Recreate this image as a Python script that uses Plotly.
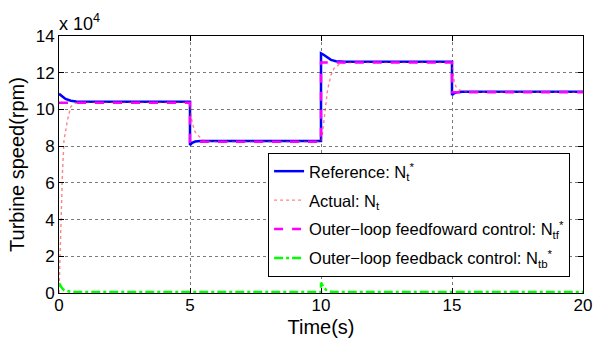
import plotly.graph_objects as go

# Reference turbine speed N_t* (rpm)
t_ref = [0, 0.1, 0.25, 0.45, 0.65, 1.0, 5.0, 5.0, 5.08, 5.2, 5.4,
         10.0, 10.0, 10.1, 10.2, 10.38, 10.57, 10.9,
         15.0, 15.0, 15.08, 15.2, 15.4, 20.0]
n_ref = [108500, 107200, 105700, 104700, 104300, 104200, 104200, 80600, 81800, 82500, 82800,
         82800, 130600, 129800, 128700, 127000, 126300, 126000,
         126000, 107800, 108800, 109400, 109600, 109600]

# Actual turbine speed N_t (rpm)
t_act = [0, 0.03, 0.06, 0.1, 0.13, 0.19, 0.25, 0.32, 0.45, 0.6, 0.8,
         5.0, 5.04, 5.1, 5.16, 5.23, 5.36, 5.48, 5.7, 6.0,
         10.0, 10.05, 10.13, 10.2, 10.25, 10.38, 10.5, 10.7, 10.9, 11.2,
         15.0, 15.04, 15.09, 15.15, 15.28, 15.45, 15.7, 20.0]
n_act = [0, 18000, 34000, 52000, 65000, 83000, 89500, 94000, 101500, 103300, 103700,
         103700, 96000, 91500, 88800, 87000, 84800, 83300, 82600, 82400,
         82400, 86000, 96000, 103300, 110600, 118700, 122400, 124700, 125400, 125500,
         125500, 120000, 115000, 112400, 110600, 109700, 109400, 109300]

# Outer-loop feedforward control N_tf* (rpm)
t_ff = [0, 5, 5, 10, 10, 15, 15, 20]
n_ff = [103700, 103700, 82400, 82400, 125500, 125500, 109300, 109300]

# Outer-loop feedback control N_tb* (rpm)
t_fb = [0, 0.1, 0.2, 0.35, 0.5, 10.0, 10.0, 10.1, 10.2, 10.35, 10.5, 20.0]
n_fb = [5300, 3000, 1500, 800, 500, 500, 5600, 3200, 1600, 800, 500, 500]

x_ticks = [0, 5, 10, 15, 20]
y_ticks = [0, 20000, 40000, 60000, 80000, 100000, 120000, 140000]
y_tick_text = ["0", "2", "4", "6", "8", "10", "12", "14"]

FONT = "Liberation Sans, Arial, Helvetica, sans-serif"

fig = go.Figure()
fig.add_trace(go.Scatter(x=t_ref, y=n_ref, mode="lines", legendgroup="ref",
                         line=dict(color="#0000ff", width=2.5),
                         name="Reference: N<sub>t</sub><sup>*</sup>"))
fig.add_trace(go.Scatter(x=t_act, y=n_act, mode="lines", legendgroup="act",
                         line=dict(color="rgba(255,50,50,0.6)", width=1.4, dash="dot"),
                         name="Actual: N<sub>t</sub>"))
fig.add_trace(go.Scatter(x=t_ff, y=n_ff, mode="lines", legendgroup="ff",
                         line=dict(color="#ff00ff", width=2.5, dash="dash"),
                         name="Outer−loop feedfoward control: N<sub>tf</sub><sup>*</sup>"))
fig.add_trace(go.Scatter(x=t_fb, y=n_fb, mode="lines", legendgroup="fb",
                         line=dict(color="#00ff00", width=2.5, dash="dashdot"),
                         name="Outer−loop feedback control: N<sub>tb</sub><sup>*</sup>"))

axis_common = dict(
    showline=True, linecolor="black", linewidth=1, mirror="allticks",
    ticks="inside", ticklen=5, tickcolor="black",
    showgrid=True, gridcolor="#7a7a7a", gridwidth=1, griddash="dot",
    zeroline=False, automargin=False,
    tickfont=dict(family=FONT, size=17, color="black"),
)

fig.update_xaxes(range=[0, 20], tickvals=x_ticks, ticklabelstandoff=-3,
                 title=dict(text="Time(s)", font=dict(family=FONT, size=20, color="black"), standoff=5),
                 **axis_common)
fig.update_yaxes(range=[0, 140000], tickvals=y_ticks, ticktext=y_tick_text,
                 title=dict(text="Turbine speed(rpm)", font=dict(family=FONT, size=20, color="black"), standoff=5),
                 **axis_common)

fig.add_annotation(text="x 10<sup>4</sup>", xref="paper", yref="paper", x=0, y=1,
                   xanchor="left", yanchor="bottom", showarrow=False, xshift=-2, yshift=0,
                   font=dict(family=FONT, size=18, color="black"))

fig.update_layout(
    width=605, height=338,
    margin=dict(l=59, r=22, t=36, b=45),
    paper_bgcolor="white", plot_bgcolor="white",
    font=dict(family=FONT, color="black"),
    legend=dict(x=0.399, y=0.545, xanchor="left", yanchor="top",
                bgcolor="white", bordercolor="black", borderwidth=1,
                font=dict(family=FONT, size=16.5, color="black"),
                tracegroupgap=4.5, itemwidth=30),
    showlegend=True,
)

fig.write_html("out.html")
